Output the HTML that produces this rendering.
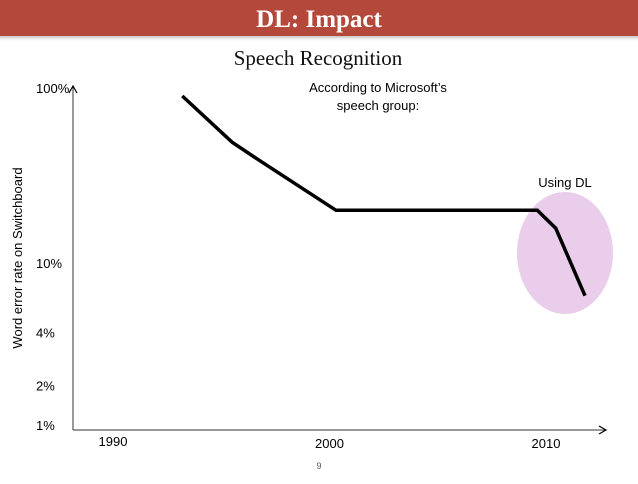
<!DOCTYPE html>
<html><head><meta charset="utf-8">
<style>
body{margin:0;width:638px;height:479px;background:#fff;overflow:hidden;font-family:"Liberation Sans",sans-serif;}
</style></head>
<body>
<svg width="638" height="479" viewBox="0 0 638 479">
<defs><linearGradient id="sh" x1="0" y1="0" x2="0" y2="1"><stop offset="0" stop-color="#999" stop-opacity="0.6"/><stop offset="1" stop-color="#fff" stop-opacity="0"/></linearGradient>
<marker id="arr" markerWidth="10" markerHeight="10" refX="8" refY="5" orient="auto"><path d="M1,1 L8,5 L1,9" fill="none" stroke="#000" stroke-width="1.2"/></marker></defs>
<rect x="0" y="0" width="638" height="36" fill="#b4483a"/>
<rect x="0" y="36" width="638" height="6" fill="url(#sh)"/>
<text x="319" y="27" text-anchor="middle" font-family="Liberation Serif,serif" font-weight="bold" font-size="25" fill="#fff">DL: Impact</text>
<text x="318" y="65" text-anchor="middle" font-family="Liberation Serif,serif" font-size="21" fill="#111">Speech Recognition</text>
<text x="378" y="92" text-anchor="middle" font-size="13" fill="#000"><tspan x="378">According to Microsoft’s</tspan><tspan x="378" dy="18">speech group:</tspan></text>
<ellipse cx="565" cy="253" rx="48" ry="61" fill="#e9cdea"/>
<text x="565" y="187" text-anchor="middle" font-size="13">Using DL</text>
<line x1="73" y1="430" x2="73" y2="86" stroke="#333" stroke-width="1" marker-end="url(#arr)"/>
<line x1="73" y1="430" x2="606" y2="430" stroke="#333" stroke-width="1" marker-end="url(#arr)"/>
<text transform="translate(22,258) rotate(-90)" text-anchor="middle" font-size="13">Word error rate on Switchboard</text>
<g id="ticks"></g>
<path id="line" fill="none" stroke="#000" stroke-width="3.5"/>
<text x="319" y="469" text-anchor="middle" font-size="9" fill="#555">9</text>
</svg>
<script>
const years=[1993.2,1995.5,1996.7,2000.3,2009.6,2010.45,2011.8];
const errorRates=[90,49,39,20,20,15.8,6.5];
const yTickValues=[100,10,4,2,1];
const yTickLabels=["100%","10%","4%","2%","1%"];
const xTickValues=[1990,2000,2010];
const xTickLabels=["1990","2000","2010"];
function xs(yr){return 113+(yr-1990)*21.65;}
function ys(v){return 88+175*(2-Math.log10(v));}
const ns="http://www.w3.org/2000/svg";
const g=document.getElementById('ticks');
yTickValues.forEach((v,i)=>{
  const t=document.createElementNS(ns,'text');
  t.setAttribute('x',36);t.setAttribute('y',Math.min(ys(v),425)+5);
  t.setAttribute('font-size','13');t.textContent=yTickLabels[i];
  
  
  g.appendChild(t);
});
xTickValues.forEach((v,i)=>{
  const t=document.createElementNS(ns,'text');
  t.setAttribute('x',xs(v));t.setAttribute('y',i==0?446:448);
  t.setAttribute('text-anchor','middle');
  t.setAttribute('font-size','13');t.textContent=xTickLabels[i];
  
  
  g.appendChild(t);
});
document.getElementById('line').setAttribute('d',years.map((y,i)=>(i?'L':'M')+xs(y).toFixed(1)+','+ys(errorRates[i]).toFixed(1)).join(' '));
</script>
</body></html>
